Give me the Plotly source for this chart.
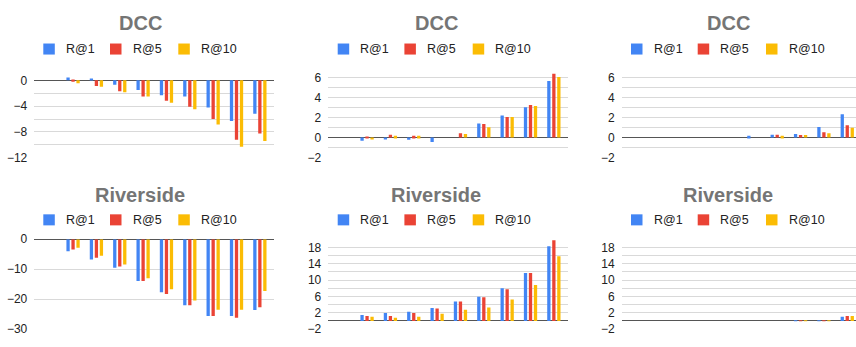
import plotly.graph_objects as go

# Shared categories (ten groups, no axis labels) and series styling
groups = list(range(10))
series_names = ["R@1", "R@5", "R@10"]
series_colors = ["#4285F4", "#EA4335", "#FBBC04"]

# DCC, first column
dcc_a_r1 = [0, 0.45, 0.2, -0.7, -1.5, -2.3, -2.5, -4.2, -6.3, -5.2]
dcc_a_r5 = [0, -0.2, -0.86, -1.7, -2.5, -3.17, -4.1, -6.0, -9.2, -8.25]
dcc_a_r10 = [0, -0.45, -1.0, -1.86, -2.5, -3.47, -4.5, -6.85, -10.3, -9.4]

# DCC, second column
dcc_b_r1 = [0, -0.32, -0.15, -0.22, -0.44, 0, 1.42, 2.2, 3.03, 5.65]
dcc_b_r5 = [0, 0.03, 0.28, 0.19, 0, 0.44, 1.36, 2.05, 3.25, 6.37]
dcc_b_r10 = [0, -0.13, 0.19, 0.19, 0, 0.35, 1.04, 2.05, 3.15, 6.06]

# DCC, third column
dcc_c_r1 = [0, 0, 0, 0, 0, 0.19, 0.28, 0.35, 1.07, 2.33]
dcc_c_r5 = [0, 0, 0, 0, 0, 0, 0.28, 0.25, 0.54, 1.23]
dcc_c_r10 = [0, 0, 0, 0, 0, 0, 0.19, 0.25, 0.44, 0.98]

# Riverside, first column
riv_a_r1 = [0, -4.0, -6.8, -9.5, -13.9, -17.7, -22.0, -25.6, -25.6, -23.6]
riv_a_r5 = [0, -3.4, -6.2, -9.1, -13.9, -18.3, -22.0, -25.6, -26.2, -22.7]
riv_a_r10 = [0, -2.8, -5.5, -8.4, -13.0, -16.7, -20.4, -23.5, -23.5, -17.3]

# Riverside, second column
riv_b_r1 = [0, 1.49, 1.96, 2.27, 3.2, 4.78, 5.96, 8.0, 11.76, 18.27]
riv_b_r5 = [0, 1.25, 1.25, 1.96, 3.06, 4.78, 5.8, 7.76, 11.76, 19.76]
riv_b_r10 = [0, 1.02, 0.78, 1.02, 1.8, 2.75, 3.3, 5.25, 8.78, 15.84]

# Riverside, third column
riv_c_r1 = [0, 0, 0, 0, 0, 0, 0, 0.08, 0.08, 1.02]
riv_c_r5 = [0, 0, 0, 0, 0, 0, 0, 0.08, 0.08, 1.25]
riv_c_r10 = [0, 0, 0, 0, 0, 0, 0, 0.08, 0.08, 1.25]

W, H = 856, 347
FONT = "Arial, Liberation Sans, sans-serif"

panels = [
    # title, series, x-domain px, y-domain px (top, bottom), y range, tick0, dtick, minor dtick, title x px, legend x px
    ("DCC", [dcc_a_r1, dcc_a_r5, dcc_a_r10], (34.3, 274.3), (63, 157), (-12, 2), 0, 4, 2, 140, 43.3),
    ("DCC", [dcc_b_r1, dcc_b_r5, dcc_b_r10], (328.3, 568.3), (63, 157), (-2, 7), 0, 2, 1, 437, 337.7),
    ("DCC", [dcc_c_r1, dcc_c_r5, dcc_c_r10], (621.7, 856), (63, 157), (-2, 7), 0, 2, 1, 728, 631),
    ("Riverside", [riv_a_r1, riv_a_r5, riv_a_r10], (34.3, 274.3), (242, 335.7), (-30, 0), 0, 10, None, 140, 43.3),
    ("Riverside", [riv_b_r1, riv_b_r5, riv_b_r10], (328.3, 568.3), (242, 335.7), (-2, 20), -2, 4, 2, 436, 337.7),
    ("Riverside", [riv_c_r1, riv_c_r5, riv_c_r10], (621.7, 856), (242, 335.7), (-2, 20), -2, 4, 2, 728, 631),
]

GROUP_PX = 23.35              # width of one category group in pixels
PAD = 0.66                    # distance from plot edge to first group centre, in groups
LEGEND_STEP = [0, 66.7, 135]  # legend entry offsets from the first swatch
SWATCH = 11.5
TEXT_GAP = 21.7               # swatch left edge to label start

fig = go.Figure()
annotations = []
shapes = []
layout = {}


def px_x(v):
    return v / W


def px_y(v):
    return 1 - v / H


for i, (title, series, xd, yd, yr, t0, dt, mdt, tx, lx) in enumerate(panels, start=1):
    sfx = "" if i == 1 else str(i)
    for name, color, vals in zip(series_names, series_colors, series):
        fig.add_trace(go.Bar(
            x=groups, y=vals, name=name,
            marker=dict(color=color, line=dict(width=0)),
            xaxis=f"x{sfx}", yaxis=f"y{sfx}", showlegend=False,
        ))

    x0 = -PAD
    x1 = x0 + (xd[1] - xd[0]) / GROUP_PX
    layout[f"xaxis{sfx}"] = dict(
        domain=[px_x(xd[0]), px_x(xd[1])], range=[x0, x1], anchor=f"y{sfx}",
        showticklabels=False, showgrid=False, zeroline=False, showline=False,
        ticks="", fixedrange=True,
    )
    yaxis = dict(
        domain=[px_y(yd[1]), px_y(yd[0])], range=list(yr), anchor=f"x{sfx}",
        tick0=t0, dtick=dt, showgrid=True, gridcolor="#d9d9d9", gridwidth=1,
        zeroline=True, zerolinecolor="#555555", zerolinewidth=1,
        showline=False, ticks="", ticklabelstandoff=6,
        tickfont=dict(family=FONT, size=12, color="#222222"),
    )
    if mdt is not None:
        yaxis["minor"] = dict(dtick=mdt, tick0=t0, showgrid=True,
                              gridcolor="#d9d9d9", gridwidth=1, ticks="")
    layout[f"yaxis{sfx}"] = yaxis

    top_row = yd[0] < 100
    title_y = 17 if top_row else 196
    annotations.append(dict(
        text=f"<b>{title}</b>", x=px_x(tx), y=px_y(title_y),
        xref="paper", yref="paper", xanchor="center", yanchor="middle",
        showarrow=False, font=dict(family=FONT, size=20, color="#757575"),
    ))

    # Legend: coloured swatch followed by series name
    ly = 43.8 if top_row else 221.8
    for step, name, color in zip(LEGEND_STEP, series_names, series_colors):
        sx = lx + step
        shapes.append(dict(
            type="rect", xref="paper", yref="paper",
            x0=px_x(sx), x1=px_x(sx + SWATCH),
            y0=px_y(ly - SWATCH / 2), y1=px_y(ly + SWATCH / 2),
            fillcolor=color, line=dict(width=0), layer="above",
        ))
        annotations.append(dict(
            text=name, x=px_x(sx + TEXT_GAP), y=px_y(ly),
            xref="paper", yref="paper", xanchor="left", yanchor="middle",
            showarrow=False, borderpad=0,
            font=dict(family=FONT, size=12.5, color="#222222"),
        ))

fig.update_layout(
    width=W, height=H, margin=dict(l=0, r=0, t=0, b=0),
    paper_bgcolor="white", plot_bgcolor="white",
    barmode="group", bargap=0.358, bargroupgap=0.34,
    annotations=annotations, shapes=shapes, showlegend=False, **layout,
)

fig.write_html("out.html")
